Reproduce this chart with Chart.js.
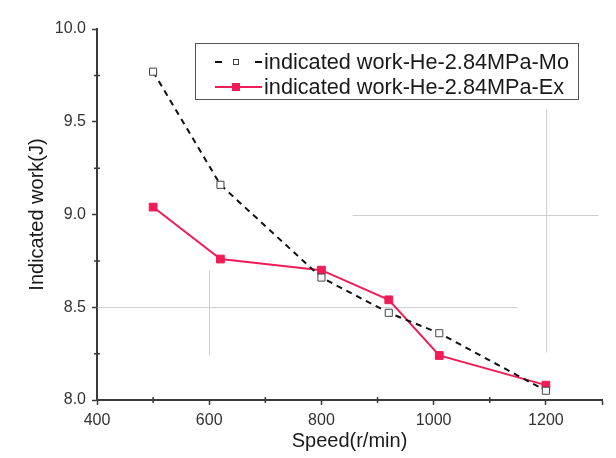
<!DOCTYPE html>
<html>
<head>
<meta charset="utf-8">
<script src="https://cdn.jsdelivr.net/npm/chart.js@4.4.1/dist/chart.umd.min.js"></script>
<style>
  html, body { margin: 0; padding: 0; background: #fff; }
  #wrap { width: 616px; height: 458px; }
</style>
</head>
<body>
<div id="wrap"><canvas id="work"></canvas></div>
<script>
(function(Chart) {
    const speedMo = [500, 620, 800, 920, 1010, 1200];
    const workMo = [9.77, 9.16, 8.66, 8.47, 8.36, 8.05];
    const speedEx = [500, 620, 800, 920, 1010, 1200];
    const workEx = [9.04, 8.76, 8.70, 8.54, 8.24, 8.08];
    const labelMo = 'indicated work-He-2.84MPa-Mo';
    const labelEx = 'indicated work-He-2.84MPa-Ex';
    const xTitle = 'Speed(r/min)';
    const yTitle = 'Indicated work(J)';

    const red = '#ef1c58';
    const axisColor = '#3a3a3a';
    const font = 'Liberation Sans, Arial, sans-serif';

    function points(xs, ys) {
        return xs.map((x, i) => ({ x: x, y: ys[i] }));
    }

    // faint leftover grid segments, in data units
    const gridBits = [
        { x0: 400, x1: 1148, y0: 8.5, y1: 8.5 },
        { x0: 855, x1: 1293, y0: 9.0, y1: 9.0 },
        { x0: 600, x1: 600, y0: 8.70, y1: 8.24 },
        { x0: 1200, x1: 1200, y0: 9.57, y1: 8.26 }
    ];

    const gridPlugin = {
        id: 'gridBits',
        beforeDatasetsDraw(chart) {
            const ctx = chart.ctx;
            const xs = chart.scales.x, ys = chart.scales.y;
            ctx.save();
            ctx.strokeStyle = '#cfcfcf';
            ctx.lineWidth = 1;
            gridBits.forEach(g => {
                ctx.beginPath();
                ctx.moveTo(Math.round(xs.getPixelForValue(g.x0)) + 0.5, Math.round(ys.getPixelForValue(g.y0)) + 0.5);
                ctx.lineTo(Math.round(xs.getPixelForValue(g.x1)) + 0.5, Math.round(ys.getPixelForValue(g.y1)) + 0.5);
                ctx.stroke();
            });
            ctx.restore();
        }
    };

    // minor ticks halfway between the labelled ones
    const minorTicks = {
        id: 'minorTicks',
        afterDraw(chart) {
            const ctx = chart.ctx;
            const xs = chart.scales.x, ys = chart.scales.y;
            const area = chart.chartArea;
            ctx.save();
            ctx.strokeStyle = axisColor;
            ctx.lineWidth = 1.5;
            ctx.beginPath();
            for (let v = 500; v < 1300; v += 200) {
                const px = xs.getPixelForValue(v);
                ctx.moveTo(px, area.bottom - 3);
                ctx.lineTo(px, area.bottom + 3);
            }
            for (let v = 8.25; v < 10; v += 0.5) {
                const py = ys.getPixelForValue(v);
                ctx.moveTo(area.left - 3, py);
                ctx.lineTo(area.left + 3, py);
            }
            ctx.stroke();
            ctx.restore();
        }
    };

    // legend box with line + marker samples
    const boxLegend = {
        id: 'boxLegend',
        afterDraw(chart) {
            const ctx = chart.ctx;
            const left = 195, top = 43, w = 383, h = 56;
            ctx.save();
            ctx.fillStyle = '#fff';
            ctx.fillRect(left, top, w, h);
            ctx.strokeStyle = '#555';
            ctx.lineWidth = 1;
            ctx.strokeRect(left + 0.5, top + 0.5, w, h);

            const rows = [
                { y: top + 19, label: labelMo, ds: chart.data.datasets[0], dash: [7, 33], s: 6 },
                { y: top + 44, label: labelEx, ds: chart.data.datasets[1], dash: [], s: 8 }
            ];
            rows.forEach(r => {
                ctx.strokeStyle = r.ds.borderColor;
                ctx.lineWidth = 2;
                ctx.setLineDash(r.dash);
                ctx.beginPath();
                ctx.moveTo(215, r.y);
                ctx.lineTo(262, r.y);
                ctx.stroke();
                ctx.setLineDash([]);
                const s = r.s;
                ctx.fillStyle = r.ds.pointBackgroundColor;
                ctx.fillRect(236 - s / 2, r.y - s / 2, s, s);
                ctx.strokeStyle = r.ds.pointBorderColor;
                ctx.lineWidth = 1;
                ctx.strokeRect(236 - s / 2 + 0.5, r.y - s / 2 + 0.5, s - 1, s - 1);
                ctx.fillStyle = '#1a1a1a';
                ctx.font = '21.7px ' + font;
                ctx.textBaseline = 'middle';
                ctx.fillText(r.label, 264, r.y + 1);
            });
            ctx.restore();
        }
    };

    const data = {
        datasets: [
            {
                label: labelMo,
                data: points(speedMo, workMo),
                borderColor: '#111',
                borderWidth: 2,
                borderDash: [6, 5],
                pointStyle: 'rect',
                pointRadius: 5,
                pointBackgroundColor: '#fff',
                pointBorderColor: '#444',
                pointBorderWidth: 1,
                tension: 0
            },
            {
                label: labelEx,
                data: points(speedEx, workEx),
                borderColor: red,
                borderWidth: 2,
                pointStyle: 'rect',
                pointRadius: 5.5,
                pointBackgroundColor: red,
                pointBorderColor: red,
                pointBorderWidth: 1,
                tension: 0
            }
        ]
    };

    const config = {
        type: 'line',
        data: data,
        options: {
            responsive: true,
            maintainAspectRatio: false,
            animation: false,
            layout: { padding: { left: 0, top: 29, right: 14, bottom: 0 } },
            plugins: {
                legend: { display: false },
                tooltip: { enabled: false }
            },
            scales: {
                x: {
                    type: 'linear',
                    min: 400,
                    max: 1300,
                    afterFit(scale) { scale.height = 58; },
                    border: { display: true, color: axisColor, width: 2 },
                    grid: {
                        drawOnChartArea: false,
                        drawTicks: true,
                        tickLength: 5,
                        tickColor: axisColor,
                        tickWidth: 1.5
                    },
                    ticks: {
                        stepSize: 200,
                        color: '#333',
                        font: { family: font, size: 16 },
                        padding: 6,
                        callback: v => (v === 1300 ? '' : v)
                    },
                    title: {
                        display: true,
                        text: xTitle,
                        color: '#1a1a1a',
                        font: { family: font, size: 20 },
                        padding: { top: 0, bottom: 5 }
                    }
                },
                y: {
                    min: 8.0,
                    max: 10.0,
                    afterFit(scale) { scale.width = 97; },
                    border: { display: true, color: axisColor, width: 2 },
                    grid: {
                        drawOnChartArea: false,
                        drawTicks: true,
                        tickLength: 5,
                        tickColor: axisColor,
                        tickWidth: 1.5
                    },
                    ticks: {
                        stepSize: 0.5,
                        color: '#333',
                        font: { family: font, size: 16 },
                        padding: 6,
                        callback: v => v.toFixed(1)
                    },
                    title: {
                        display: true,
                        text: yTitle,
                        color: '#1a1a1a',
                        font: { family: font, size: 20 },
                        padding: { top: 25, bottom: 0 }
                    }
                }
            }
        },
        plugins: [gridPlugin, minorTicks, boxLegend]
    };

    const ctx = document.getElementById('work').getContext('2d');
    const chart = new Chart(ctx, config);
})(Chart);
</script>
</body>
</html>
